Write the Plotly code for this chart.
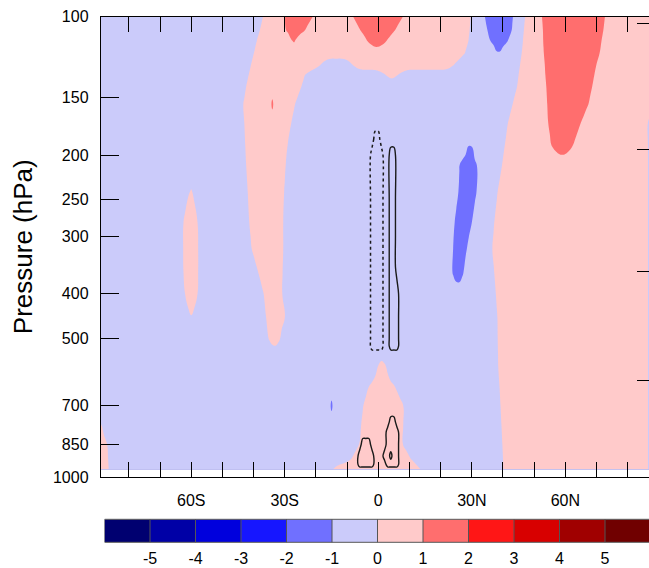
import numpy as np
import plotly.graph_objects as go

# ---------------- colour bands (contour levels -5..5, step 1) ----------------
levels = [-5, -4, -3, -2, -1, 0, 1, 2, 3, 4, 5]
band_colors = ["#000070", "#0000a6", "#0000dd", "#1616ff", "#7070ff", "#cbcbfa",
               "#ffcaca", "#ff6e6e", "#ff1616", "#d80000", "#a00000", "#700000"]

# class values (centre of each shaded band)
B = -0.5   # -1 .. 0  light blue
P = 0.5    #  0 .. 1  light pink
R = 1.5    #  1 .. 2  red
D = -1.5   # -2 .. -1 blue

# pressure levels (hPa) at which the shaded field was read
pressure_levels = [100, 107, 113, 120, 127, 134, 142, 155, 170, 190, 210, 240, 280,
                   320, 360, 400, 450, 500, 540, 580, 640, 700, 770, 850, 910, 962]

# for every pressure level: (latitude where a value starts, value)
field_segments = [
    [(-90, B), (-37, P), (-29.9, R), (-21, P), (-8.1, R), (7.9, P), (29.6, B), (34.2, D), (43.2, B), (47.1, P), (52.5, R), (72.7, P)],
    [(-90, B), (-38, P), (-29.6, R), (-23.5, P), (-5.8, R), (5.4, P), (29.3, B), (35, D), (42.8, B), (46.7, P), (52.8, R), (72.2, P)],
    [(-90, B), (-39, P), (-28.5, 1.1), (-26, P), (-3.5, R), (2.6, P), (28.9, B), (36, D), (41.5, B), (46.4, P), (52.9, R), (71.6, P)],
    [(-90, B), (-39.9, P), (27.8, B), (37.5, -1.05), (39.5, B), (46, P), (53.1, R), (71, P)],
    [(-90, B), (-40.8, P), (-18.4, B), (-8.4, P), (24.4, B), (45.5, P), (53.4, R), (70, P)],
    [(-90, B), (-41.6, P), (-23.5, B), (1.2, 0.2), (7.4, B), (45, P), (53.6, R), (69.3, P)],
    [(-90, B), (-42.4, P), (-24.7, B), (44.5, P), (53.9, R), (68.6, P)],
    [(-90, B), (-43.3, P), (-34.5, 1.2), (-33.5, P), (-26.7, B), (43.1, P), (54.2, R), (67.4, P)],
    [(-90, B), (-43, P), (-27.9, B), (41.6, P), (54.5, R), (65, P), (86.5, B)],
    [(-90, B), (-42.7, P), (-29.1, B), (28.5, -1.1), (30.5, B), (40.6, P), (55.5, R), (62.5, P), (86.5, B)],
    [(-90, B), (-42.4, P), (-29.7, B), (26.1, D), (31.6, B), (39.7, P), (86.5, B)],
    [(-90, B), (-61.8, 0.05), (-58.5, B), (-41.9, P), (-30.2, B), (25.7, D), (31.5, B), (38.3, P), (86.5, B)],
    [(-90, B), (-62.5, P), (-58, B), (-41.4, P), (-30.5, B), (24.5, D), (30, B), (37.2, P), (86.5, B)],
    [(-90, B), (-62.6, P), (-57.8, B), (-40.6, P), (-30.5, B), (24, D), (28.4, B), (36.6, P), (86.5, B)],
    [(-90, B), (-62.5, P), (-57.8, B), (-38.5, P), (-30.7, B), (23.8, D), (27.3, B), (37.2, P), (86.5, B)],
    [(-90, B), (-62, P), (-58, B), (-36.8, P), (-30.8, B), (37.7, P), (86.5, B)],
    [(-90, B), (-61.5, -0.05), (-58.5, B), (-36, P), (-29.9, B), (38.2, P), (86.5, B)],
    [(-90, B), (-35.2, P), (-31.5, B), (38.3, P), (86.5, B)],
    [(-90, B), (38.4, P), (86.5, B)],
    [(-90, B), (-0.3, P), (2.6, B), (38.5, P), (86.5, B)],
    [(-90, B), (-3.2, P), (5.5, B), (38.9, P), (86.5, B)],
    [(-90, B), (-15.5, -1.2), (-14.5, B), (-4.8, P), (8, B), (39.2, P), (86.5, B)],
    [(-90, 0.1), (-88.5, B), (-5.5, P), (8, B), (39.5, P), (86.5, B)],
    [(-90, P), (-87, B), (-6.1, P), (7.9, B), (39.8, P), (86.5, B)],
    [(-90, P), (-86.7, B), (-8.5, P), (10.3, B), (40, P), (86.5, B)],
    [(-90, P), (-86.5, B), (-14.5, P), (13.5, B), (40.1, P), (86.5, B)],
]

# overlaid black contours (second field): pressure levels and (lat from, lat to, value)
w_pressure = [170, 185, 200, 250, 300, 350, 400, 450, 500, 520, 540, 720, 760, 800, 850, 900, 940, 962]
w_segments = [
    [],
    [(-1.5, 0.5, -1)],
    [(-2.5, 1.5, -1), (3.5, 5.5, 1)],
    [(-2.5, 1.5, -1), (3.5, 5.5, 1)],
    [(-2.5, 1.5, -1), (3.5, 5.5, 1)],
    [(-2.5, 1.5, -1), (3.5, 5.5, 1)],
    [(-2.5, 1.5, -1), (3.5, 6.5, 1)],
    [(-2.5, 1.5, -1), (3.5, 6.5, 1)],
    [(-2.5, 1.5, -1), (3.5, 6.5, 1)],
    [(-2.5, 1.5, -1), (3.5, 6.5, 1)],
    [],
    [],
    [(3.5, 5.5, 1)],
    [(2.5, 6.5, 1)],
    [(-5.5, -2.5, 1), (2.5, 6.5, 1)],
    [(-6.5, -1.5, 1), (1.5, 3.5, 1), (3.5, 4.5, 1.8), (4.5, 6.5, 1)],
    [(-6.5, -1.5, 1), (2.5, 6.5, 1)],
    [],
]

# axis tick labels
y_ticks = [100, 150, 200, 250, 300, 400, 500, 700, 850, 1000]
x_ticks = [-60, -30, 0, 30, 60]
x_ticktext = ["60S", "30S", "0", "30N", "60N"]
height_tick_pressures = [103.8, 194, 357, 616]   # right-hand (height) axis ticks

# ---------------- build grids ----------------
lat_grid = np.arange(-90, 90.5, 1.0)


def row_values(segs, hmax=3.0):
    """piecewise-linear profile through the read segments (short ramp at each boundary)"""
    starts = [s for s, _ in segs] + [90.0]
    vals = [v for _, v in segs]
    widths = [starts[k + 1] - starts[k] for k in range(len(vals))]
    kx, ky = [-1e3], [vals[0]]
    for k in range(1, len(vals)):
        h = min(hmax, 0.45 * widths[k - 1], 0.45 * widths[k])
        kx += [starts[k] - h, starts[k] + h]
        ky += [vals[k - 1], vals[k]]
    kx.append(1e3)
    ky.append(vals[-1])
    return np.interp(lat_grid, kx, ky)


z = [row_values(s).round(3).tolist() for s in field_segments]

w_lat = np.arange(-10, 10.5, 1.0)
w = np.zeros((len(w_pressure), len(w_lat)))
for i, segs in enumerate(w_segments):
    for a, b, v in segs:
        w[i, (w_lat > a) & (w_lat < b)] = v

n = len(band_colors)
cscale = [[i / (n - 1), c] for i, c in enumerate(band_colors)]

FONT = "Liberation Sans, Arial, Helvetica, sans-serif"
W, H = 649, 568

fig = go.Figure()

fig.add_trace(go.Contour(
    x=lat_grid, y=pressure_levels, z=z,
    contours=dict(start=levels[0], end=levels[-1], size=1, coloring="fill", showlines=False),
    colorscale=cscale, showscale=False,
    line=dict(width=0, smoothing=1.3), hoverinfo="skip",
))

fig.add_trace(go.Contour(
    x=w_lat, y=w_pressure, z=w.tolist(), yaxis="y2",
    contours=dict(start=0.5, end=1.5, size=1, coloring="none"),
    line=dict(color="#1a1a1a", width=1.4, smoothing=1.0),
    showscale=False, hoverinfo="skip",
))
fig.add_trace(go.Contour(
    x=w_lat, y=w_pressure, z=w.tolist(), yaxis="y2",
    contours=dict(start=-0.5, end=-0.5, size=1, coloring="none"),
    line=dict(color="#1a1a1a", width=1.5, smoothing=1.0, dash="3px,3px"),
    showscale=False, hoverinfo="skip",
))

# label bar (colour key)
cb_centers = [levels[0] - 0.5] + [l + 0.5 for l in levels]
fig.add_trace(go.Heatmap(
    x=cb_centers, y=[0], z=[cb_centers], colorscale=cscale,
    zmin=cb_centers[0], zmax=cb_centers[-1], showscale=False,
    xaxis="x2", yaxis="y3", hoverinfo="skip",
))

shapes = []
for l in levels:
    shapes.append(dict(type="line", xref="x2", yref="y3 domain", x0=l, x1=l, y0=0, y1=1,
                       line=dict(color="#555555", width=1)))
shapes.append(dict(type="rect", xref="x2", yref="y3 domain", x0=cb_centers[0] - 0.5,
                   x1=cb_centers[-1] + 0.5, y0=0, y1=1, line=dict(color="#555555", width=1)))

px_per_deg = 3.117
x_left_px = 100.9
x0 = -89
x1 = x0 + (W - x_left_px) / px_per_deg

fig.update_layout(
    width=W, height=H,
    margin=dict(l=0, r=0, t=0, b=0, autoexpand=False),
    paper_bgcolor="white", plot_bgcolor="white",
    font=dict(family=FONT, size=16, color="black"),
    showlegend=False,
    shapes=shapes,
    xaxis=dict(
        domain=[x_left_px / W, 1], range=[x0, x1], automargin=False,
        tickmode="array", tickvals=x_ticks, ticktext=x_ticktext,
        ticks="inside", ticklen=15, tickwidth=1.3, tickcolor="black",
        showline=True, linecolor="black", linewidth=1.3, mirror="allticks",
        minor=dict(tickmode="linear", tick0=0, dtick=10, ticks="inside", ticklen=7,
                   tickwidth=1, tickcolor="black", showgrid=False),
        showgrid=False, zeroline=False, ticklabelstandoff=9,
        tickfont=dict(size=16),
    ),
    yaxis=dict(
        domain=[(H - 477) / H, (H - 16.5) / H], type="log", range=[3, 2], automargin=False,
        tickmode="array", tickvals=y_ticks, ticktext=[str(v) for v in y_ticks],
        ticks="inside", ticklen=18, tickwidth=1.3, tickcolor="black",
        showline=True, linecolor="black", linewidth=1.3, mirror=False,
        showgrid=False, zeroline=False, ticklabelstandoff=8,
        tickfont=dict(size=16),
        title=dict(text="Pressure (hPa)", font=dict(size=26), standoff=12),
    ),
    yaxis2=dict(
        overlaying="y", side="right", anchor="x", type="log", range=[3, 2], automargin=False,
        tickmode="array", tickvals=height_tick_pressures,
        ticks="inside", ticklen=12, tickwidth=1.3, tickcolor="black",
        showticklabels=False, showline=False, showgrid=False, zeroline=False,
    ),
    xaxis2=dict(
        domain=[104.5 / W, 1], anchor="y3", automargin=False,
        range=[cb_centers[0] - 0.5, cb_centers[0] - 0.5 + (W - 104.5) / 45.5],
        tickmode="array", tickvals=levels, ticktext=[str(l) for l in levels],
        ticks="", showline=False, showgrid=False, zeroline=False,
        ticklabelstandoff=5, tickfont=dict(size=16),
    ),
    yaxis3=dict(
        domain=[(H - 542.3) / H, (H - 519.3) / H], anchor="x2", range=[-0.5, 0.5],
        visible=False, automargin=False,
    ),
)

fig.write_html("out.html")
